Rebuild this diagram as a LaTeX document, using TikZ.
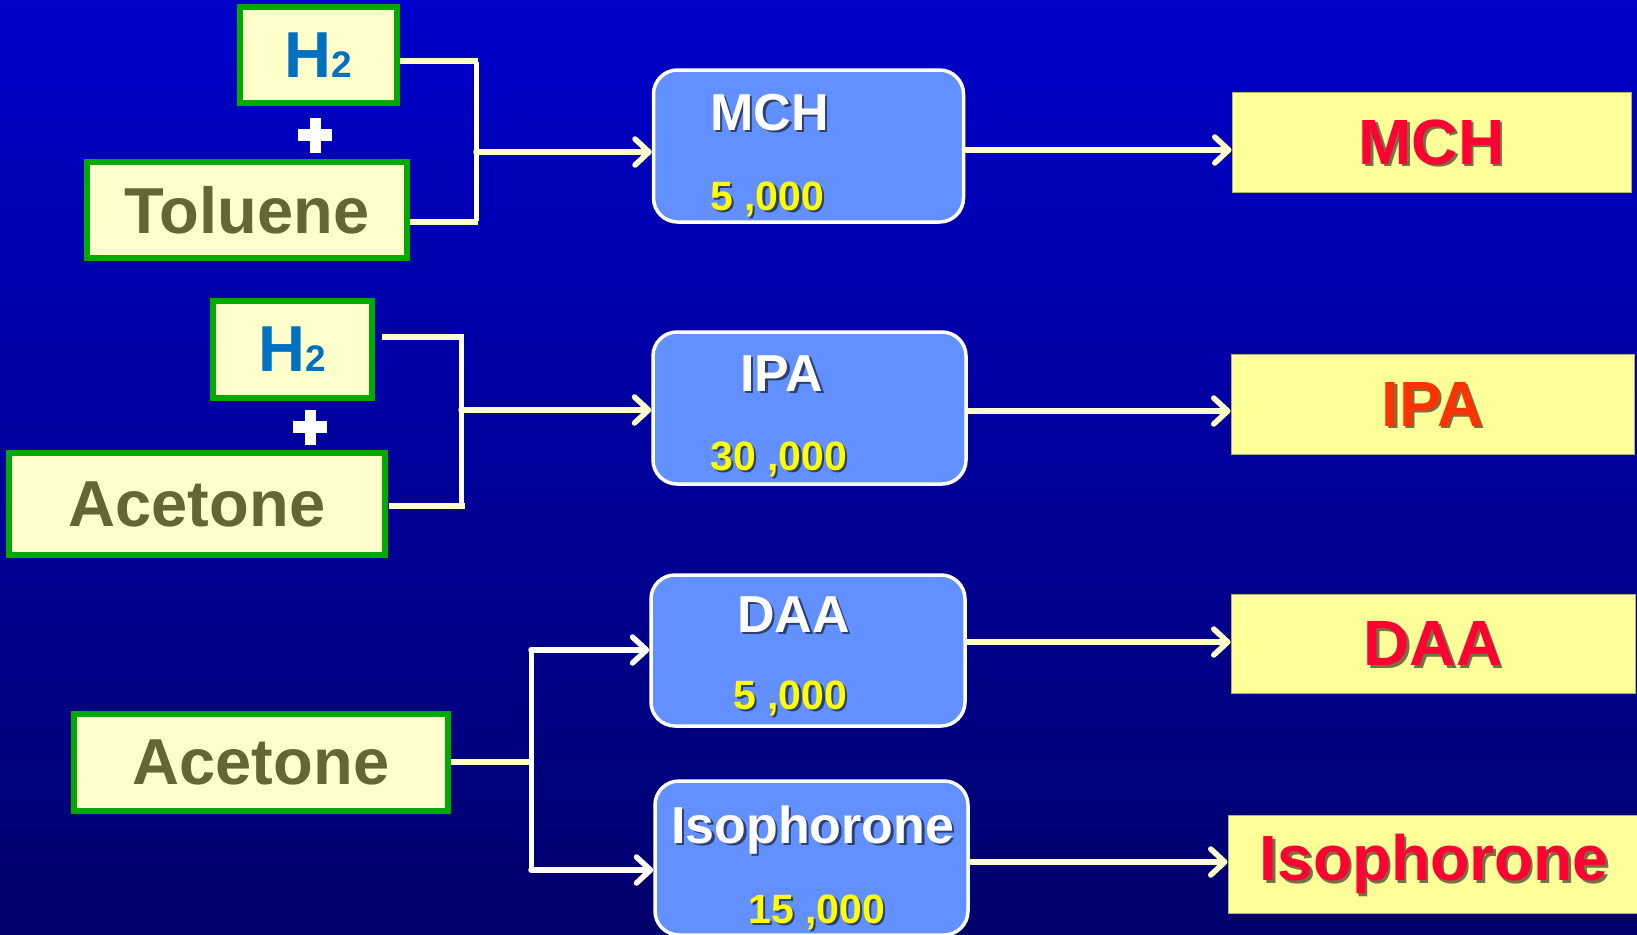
\documentclass[tikz,border=0pt]{standalone}
\usepackage{fontspec}
\setmainfont{Liberation Sans}
\usetikzlibrary{arrows.meta}
\definecolor{bgtop}{RGB}{0,0,202}
\definecolor{bgmid}{RGB}{0,0,170}
\definecolor{bgbot}{RGB}{0,0,108}
\definecolor{greenb}{RGB}{0,170,0}
\definecolor{creamf}{RGB}{255,255,204}
\definecolor{h2blue}{RGB}{0,112,192}
\definecolor{olivet}{RGB}{102,102,51}
\definecolor{bluebox}{RGB}{98,144,255}
\definecolor{yelbox}{RGB}{255,255,153}
\definecolor{yelline}{RGB}{176,176,112}
\definecolor{redt}{RGB}{255,0,51}
\definecolor{oranget}{RGB}{255,51,0}
\definecolor{numyel}{RGB}{255,255,0}
\definecolor{linec}{RGB}{255,255,204}
\newcommand\fsz[1]{\fontsize{#1}{#1}\selectfont}
\newcommand\shtxt[4]{%
  \node[#3, text=black, opacity=.55] (#1s) at ([shift={(2.5,2.5)}]#2) {#4};
  \node[#3] (#1) at (#2) {#4};}
\begin{document}
\begin{tikzpicture}[x=1pt,y=-1pt,
  inbox/.style={draw=greenb, line width=6pt, fill=creamf, inner sep=0pt, font=\bfseries\fsz{65}},
  procbox/.style={draw=white, line width=3.5pt, fill=bluebox, rounded corners=24pt, inner sep=0pt},
  outbox/.style={draw=yelline, line width=1pt, fill=yelbox, inner sep=0pt},
  ptxt/.style={inner sep=0pt, anchor=base west, text=white, font=\bfseries\fsz{52}},
  ntxt/.style={inner sep=0pt, anchor=base west, text=numyel, font=\bfseries\fsz{41}},
  otxt/.style={inner sep=0pt, font=\bfseries\fsz{64}},
  conn/.style={draw=linec, line width=5.5pt},
  vconn/.style={draw=white, line width=5pt},
  arr/.style={draw=linec, line width=5.5pt, line cap=round, -{Straight Barb[length=14pt,width=26pt,round]}},
  plussign/.pic={\fill[white] (-5.5,-17.5) rectangle (5.5,17.5); \fill[white] (-17,-6) rectangle (17,6);}
]
\useasboundingbox (0,0) rectangle (1637,934);
\shade[top color=bgtop, middle color=bgmid, bottom color=bgbot] (0,0) rectangle (1637,934);

% input boxes
\node[inbox, minimum width=157pt, minimum height=96pt] (h2a) at (318.5,55) {\textcolor{h2blue}{H\fsz{37}2}};
\node[inbox, minimum width=320pt, minimum height=96pt] (tol) at (247,210) {\textcolor{olivet}{Toluene}};
\node[inbox, minimum width=159pt, minimum height=97pt] (h2b) at (292.5,349.5) {\textcolor{h2blue}{H\fsz{37}2}};
\node[inbox, minimum width=376pt, minimum height=102pt] (ace1) at (197,504) {\textcolor{olivet}{Acetone}};
\node[inbox, minimum width=374pt, minimum height=97pt] (ace2) at (261,762.5) {\textcolor{olivet}{Acetone}};
\pic at (315,135) {plussign};
\pic at (310,427) {plussign};

% process boxes
\node[procbox, minimum width=310pt, minimum height=152pt] (mch) at (808.5,146) {};
\node[procbox, minimum width=313pt, minimum height=152pt] (ipa) at (809.5,408) {};
\node[procbox, minimum width=314pt, minimum height=151pt] (daa) at (808,650.5) {};
\node[procbox, minimum width=313pt, minimum height=154pt] (iso) at (811.5,858) {};
\shtxt{mcht}{710,130}{ptxt}{MCH}
\shtxt{mchn}{710,210}{ntxt}{5 ,000}
\shtxt{ipat}{740,391}{ptxt}{IPA}
\shtxt{ipan}{710,470}{ntxt}{30 ,000}
\shtxt{daat}{737,632}{ptxt}{DAA}
\shtxt{daan}{733,709}{ntxt}{5 ,000}
\shtxt{isot}{671,843}{ptxt}{Isophorone}
\shtxt{ison}{748,923}{ntxt}{15 ,000}

% output boxes
\node[outbox, minimum width=399pt, minimum height=100pt] (mchR) at (1431.5,142) {};
\node[outbox, minimum width=403pt, minimum height=100pt] (ipaR) at (1432.5,404) {};
\node[outbox, minimum width=404pt, minimum height=99pt] (daaR) at (1433,643.5) {};
\node[outbox, minimum width=412pt, minimum height=98pt] (isoR) at (1434,864) {};
\shtxt{mchRt}{mchR.center}{otxt, text=redt}{MCH}
\shtxt{ipaRt}{ipaR.center}{otxt, text=oranget}{IPA}
\shtxt{daaRt}{daaR.center}{otxt, text=redt}{DAA}
\shtxt{isoRt}{isoR.center}{otxt, text=redt}{Isophorone}

% group 1 bracket
\coordinate (g1t) at (476,61);
\coordinate (g1b) at (476,222);
\coordinate (g1m) at (476,152);
\draw[conn] (h2a.east |- g1t) -- ([xshift=2pt]g1t);
\draw[conn] (tol.east |- g1b) -- ([xshift=2pt]g1b);
\draw[vconn] ([yshift=-1pt]g1t) -- ([yshift=1pt]g1b);
\draw[arr] (g1m) -- (mch.west |- g1m);

% group 2 bracket
\coordinate (g2t) at (461,337);
\coordinate (g2b) at (461,506);
\coordinate (g2m) at (461,410);
\draw[conn] (382,337) -- ([xshift=2pt]g2t);
\draw[conn] (389,506) -- ([xshift=4pt]g2b);
\draw[vconn] ([yshift=3pt]g2t) -- ([yshift=1pt]g2b);
\draw[arr] (g2m) -- (ipa.west |- g2m);

% group 3 split
\coordinate (g3t) at (531,650);
\coordinate (g3m) at (531,762);
\coordinate (g3b) at (531,870);
\draw[conn] (ace2.east |- g3m) -- (g3m);
\draw[vconn] ([yshift=1pt]g3t) -- ([yshift=-1pt]g3b);
\draw[arr, draw=white] (g3t) -- (daa.west |- g3t);
\draw[arr, draw=white] (g3b) -- (iso.west |- g3b);

% outputs
\coordinate (o1) at (966,150);
\coordinate (o2) at (968,411);
\coordinate (o3) at (967,642);
\coordinate (o4) at (970,862);
\draw[arr] (o1) -- (mchR.west |- o1);
\draw[arr] (o2) -- (ipaR.west |- o2);
\draw[arr] (o3) -- (daaR.west |- o3);
\draw[arr] (o4) -- (isoR.west |- o4);
\end{tikzpicture}
\end{document}
